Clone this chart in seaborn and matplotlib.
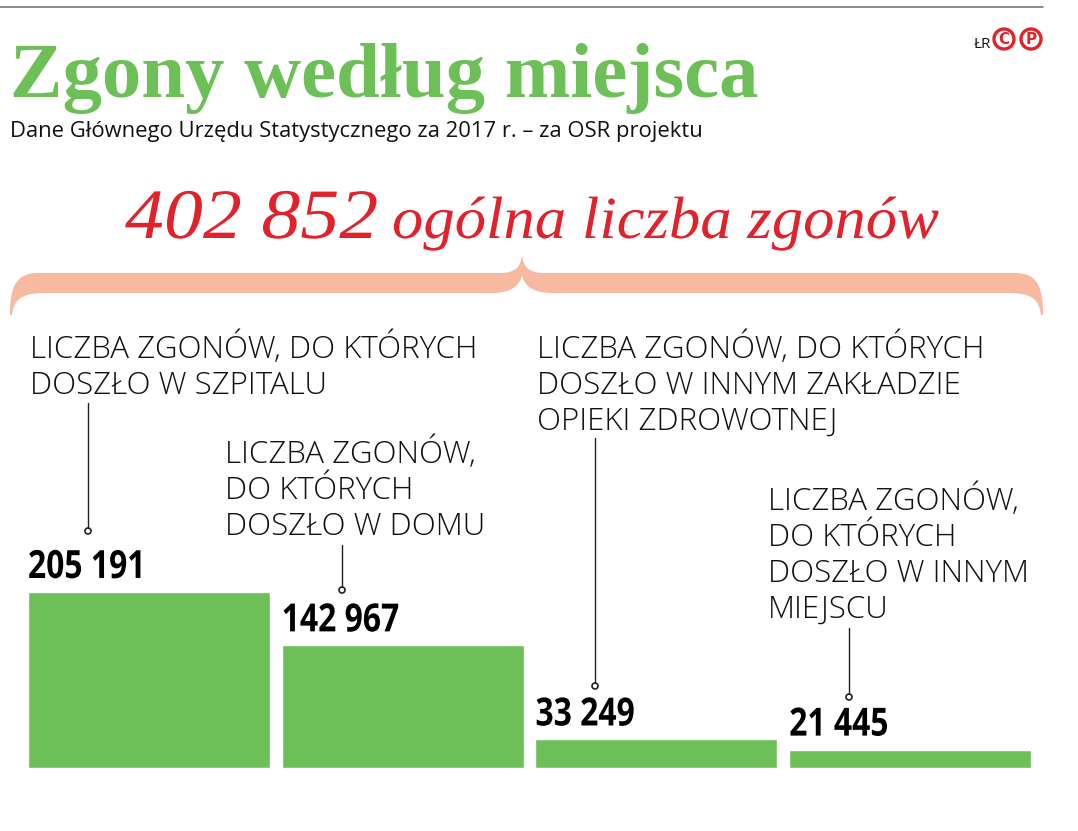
import numpy as np
import pandas as pd
import seaborn as sns
import matplotlib.pyplot as plt
from matplotlib.path import Path
from matplotlib.patches import PathPatch, Ellipse
from matplotlib.lines import Line2D
from matplotlib.textpath import TextPath
from matplotlib.font_manager import FontProperties
from matplotlib.transforms import Affine2D

# data
categories = ["szpital", "dom", "inny zakład opieki zdrowotnej", "inne miejsce"]
values = [205191, 142967, 33249, 21445]
value_labels = ["205 191", "142 967", "33 249", "21 445"]
cat_labels = [
    ["LICZBA ZGONÓW, DO KTÓRYCH", "DOSZŁO W SZPITALU"],
    ["LICZBA ZGONÓW,", "DO KTÓRYCH", "DOSZŁO W DOMU"],
    ["LICZBA ZGONÓW, DO KTÓRYCH", "DOSZŁO W INNYM ZAKŁADZIE", "OPIEKI ZDROWOTNEJ"],
    ["LICZBA ZGONÓW,", "DO KTÓRYCH", "DOSZŁO W INNYM", "MIEJSCU"],
]
total_label = "402 852"

GREEN = "#6dbf58"
RED = "#e2222b"
BRACE = "#f7b9a0"

W, H = 1078, 831
sns.set_theme(style="white")
plt.rcParams['font.family'] = ['DejaVu Sans']

fig = plt.figure(figsize=(W / 100, H / 100), dpi=100)

def fx(x):
    return x / W

def fy(y):
    return 1 - y / H

def path_text(x, y, s, size, sx, color, **fontkw):
    # text drawn as a path so it can be squeezed / stretched horizontally
    # x, y in pixels (y measured from the top, baseline)
    tp = TextPath((0, 0), s, size=size * 100 / 72, prop=FontProperties(**fontkw))
    tr = Affine2D().scale(sx, 1).translate(x, H - y)
    fig.add_artist(PathPatch(tp, transform=tr, facecolor=color, edgecolor="none"))

# bars
ax = fig.add_axes([fx(22), fy(768), fx(1037) - fx(22), (768 - 300) / H])
df = pd.DataFrame({"miejsce": categories, "zgony": values})
sns.barplot(data=df, x="miejsce", y="zgony", color=GREEN, saturation=1,
            width=0.953, ax=ax)
ax.set_xlim(-0.5, 3.5)
ax.set_ylim(0, 205191 * 468 / 176)
ax.axis("off")

for i, (v, lab) in enumerate(zip(values, value_labels)):
    px, py = ax.transData.transform((i - 0.953 / 2, v))
    path_text(px, H - py - 14, lab, 28, 0.82, "black",
              family=['Open Sans', 'DejaVu Sans'], weight="bold")

# category labels with leader lines
lab_font = ['Open Sans', 'DejaVu Sans']
label_pos = [(30, 358), (225, 463), (537, 358), (768, 510)]
for lines, (lx, ly) in zip(cat_labels, label_pos):
    for k, line in enumerate(lines):
        fig.text(fx(lx), fy(ly + 36 * k), line, ha="left", va="baseline",
                 fontsize=22.5, fontweight="light", family=lab_font, color="#111111")

leaders = [(88, 403, 531), (342, 545, 590), (595, 438, 686), (849, 628, 697)]
for x, y0, y1 in leaders:
    fig.add_artist(Line2D([fx(x), fx(x)], [fy(y0), fy(y1 - 3)], color="#222222",
                          lw=1, transform=fig.transFigure))
    fig.add_artist(Ellipse((fx(x), fy(y1)), 6 / W, 6 / H, transform=fig.transFigure,
                           facecolor="white", edgecolor="#222222", lw=1.2))

# header
fig.add_artist(Line2D([0, fx(1043)], [fy(7), fy(7)], color="#777777", lw=1.2,
                      transform=fig.transFigure))
fig.text(fx(10), fy(97), "Zgony według miejsca", ha="left", va="baseline",
         fontsize=56.7, fontweight="bold", family=['Liberation Serif', 'DejaVu Serif'],
         color=GREEN)
fig.text(fx(10), fy(137), "Dane Głównego Urzędu Statystycznego za 2017 r. – za OSR projektu",
         ha="left", va="baseline", fontsize=15.8, family=lab_font, color="#111111")
fig.text(fx(974), fy(48), "ŁR", ha="left", va="baseline", fontsize=11,
         family=lab_font, color="#111111")
for cx, ch in [(1004, "C"), (1031, "P")]:
    fig.add_artist(Ellipse((fx(cx), fy(39)), 20 / W, 20 / H, transform=fig.transFigure,
                           facecolor="white", edgecolor=RED, lw=2.4))
    fig.text(fx(cx), fy(39.5), ch, ha="center", va="center", fontsize=11,
             fontweight="bold", color=RED, family=['DejaVu Sans'])

# total
serif = ['Liberation Serif', 'DejaVu Serif']
path_text(125, 238, total_label, 51, 1.1, RED, family=serif, style="italic")
path_text(392, 238, "ogólna liczba zgonów", 43, 1.05, RED, family=serif, style="italic")

# brace
L, R, C = 10, 1043, 522
top, bt, bb, end = 255, 273, 293, 315
verts = [
    (L, end),
    (L, 290), (L + 4, bt), (L + 28, bt),
    (C - 22, bt),
    (C - 6, bt), (C - 1, 266), (C, top),
    (C + 1, 266), (C + 6, bt), (C + 22, bt),
    (R - 28, bt),
    (R - 4, bt), (R, 290), (R, end),
    (R - 2, end),
    (R - 4, 300), (R - 10, bb), (R - 35, bb),
    (C + 30, bb),
    (C + 10, bb), (C + 2, 285), (C, bt + 2),
    (C - 2, 285), (C - 10, bb), (C - 30, bb),
    (L + 35, bb),
    (L + 10, bb), (L + 4, 300), (L + 2, end),
    (L, end),
]
codes = ([Path.MOVETO] + [Path.CURVE4] * 3 + [Path.LINETO] + [Path.CURVE4] * 6
         + [Path.LINETO] + [Path.CURVE4] * 3 + [Path.LINETO] + [Path.CURVE4] * 3
         + [Path.LINETO] + [Path.CURVE4] * 6 + [Path.LINETO] + [Path.CURVE4] * 3
         + [Path.CLOSEPOLY])
pverts = [(fx(x), fy(y)) for x, y in verts]
fig.add_artist(PathPatch(Path(pverts, codes), facecolor=BRACE, edgecolor="none",
                         transform=fig.transFigure))

fig.savefig("out.png", dpi=100, facecolor="white")
